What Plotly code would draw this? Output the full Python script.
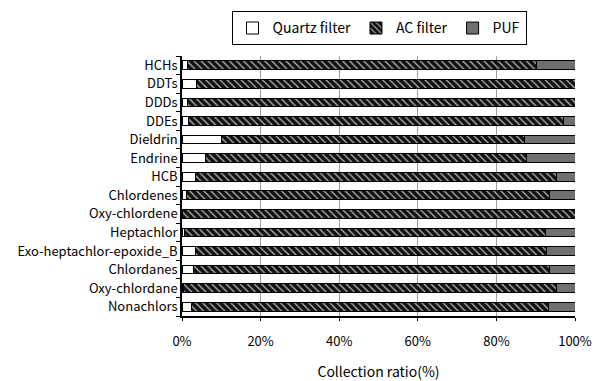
import plotly.graph_objects as go

categories = ["HCHs", "DDTs", "DDDs", "DDEs", "Dieldrin", "Endrine", "HCB",
              "Chlordenes", "Oxy-chlordene", "Heptachlor",
              "Exo-heptachlor-epoxide_B", "Chlordanes", "Oxy-chlordane", "Nonachlors"]
quartz = [1.4, 3.8, 1.4, 1.7, 10.0, 6.1, 3.4, 1.1, 0.0, 0.7, 3.4, 2.8, 0.3, 2.4]
ac_filter = [88.7, 96.2, 98.6, 95.4, 77.2, 81.5, 91.8, 92.4, 100.0, 91.8, 89.4, 90.7, 94.9, 90.8]
puf = [9.9, 0.0, 0.0, 2.9, 12.8, 12.4, 4.8, 6.5, 0.0, 7.5, 7.2, 6.5, 4.8, 6.8]
x_ticks = [0, 20, 40, 60, 80, 100]
x_tick_labels = ["0%", "20%", "40%", "60%", "80%", "100%"]

font_family = "Noto Sans CJK JP, DejaVu Sans, sans-serif"
fig = go.Figure()
fig.add_trace(go.Bar(
    y=categories, x=quartz, orientation="h", name="Quartz filter",
    marker=dict(color="white", line=dict(color="black", width=1)),
))
fig.add_trace(go.Bar(
    y=categories, x=ac_filter, orientation="h", name="AC filter",
    marker=dict(color="#111111", line=dict(color="black", width=1),
                pattern=dict(shape="\\", fgcolor="#bbbbbb", bgcolor="#111111",
                             size=5, solidity=0.25, fillmode="replace")),
))
fig.add_trace(go.Bar(
    y=categories, x=puf, orientation="h", name="PUF",
    marker=dict(color="#707070", line=dict(color="black", width=1)),
))

fig.update_layout(
    width=595, height=381,
    barmode="stack", bargap=0.53,
    paper_bgcolor="white", plot_bgcolor="white",
    margin=dict(l=182, r=20, t=56, b=65),
    font=dict(family=font_family, size=13, color="black"),
    legend=dict(orientation="h", x=0.637, xanchor="center", xref="container",
                y=0.97, yanchor="top", yref="container",
                bordercolor="black", borderwidth=1,
                font=dict(size=14), traceorder="normal", itemwidth=30,
                tracegroupgap=0),
    showlegend=True,
)
fig.update_xaxes(range=[0, 100], tickvals=x_ticks, ticktext=x_tick_labels,
                 showgrid=True, gridcolor="#a0a0a0", gridwidth=1,
                 showline=True, linecolor="black", linewidth=1.5,
                 ticks="outside", ticklen=3, tickcolor="black",
                 ticklabelstandoff=10, automargin=False,
                 title=dict(text="Collection ratio(%)", font=dict(size=14), standoff=22),
                 tickfont=dict(size=13), zeroline=False)
fig.update_yaxes(autorange="reversed", showline=True, linecolor="black", linewidth=1.5,
                 tickmode="array", tickvals=categories, ticktext=categories,
                 ticksuffix="\u00a0\u00a0",
                 ticks="outside", ticklen=4, tickson="boundaries", tickcolor="black",
                 automargin=False,
                 tickfont=dict(size=13), showgrid=False)

fig.write_html("out.html")
